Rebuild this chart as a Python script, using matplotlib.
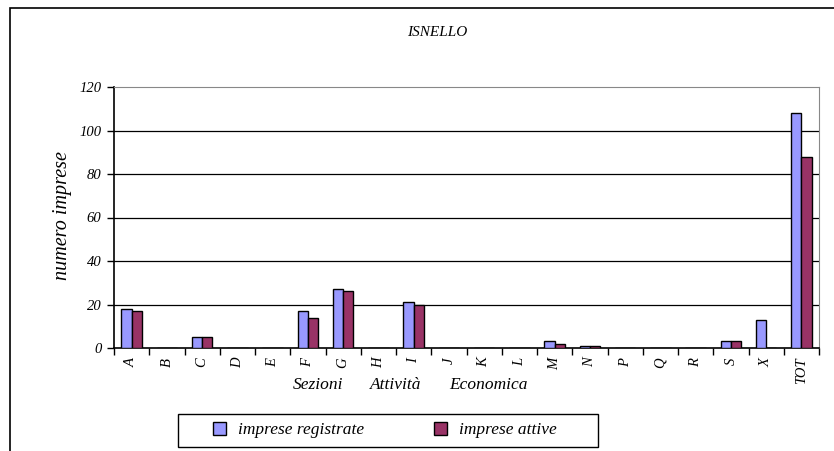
import numpy as np
import matplotlib.pyplot as plt
from matplotlib.patches import Rectangle

# dati
sezioni = ['A', 'B', 'C', 'D', 'E', 'F', 'G', 'H', 'I', 'J', 'K', 'L',
           'M', 'N', 'P', 'Q', 'R', 'S', 'X', 'TOT']
registrate = [18, 0, 5, 0, 0, 17, 27, 0, 21, 0, 0, 0, 3, 1, 0, 0, 0, 3, 13, 108]
attive = [17, 0, 5, 0, 0, 14, 26, 0, 20, 0, 0, 0, 2, 1, 0, 0, 0, 3, 0, 88]
yticks = [0, 20, 40, 60, 80, 100, 120]
parole_xlabel = ['Sezioni', 'Attività', 'Economica']

plt.rcParams['font.family'] = ['Liberation Serif', 'DejaVu Serif']
plt.rcParams['font.style'] = 'italic'

fig = plt.figure(figsize=(8.34, 4.51), dpi=100)
ax = fig.add_axes([114/834, 1-348/451, 705/834, 261/451])

# cornice esterna
fig.patches.append(Rectangle((10/834, -0.1), 1.2, 1-8/451+0.1, transform=fig.transFigure,
                             fill=False, edgecolor='black', linewidth=1.2))

x = np.arange(len(sezioni))
w = 0.29
ax.bar(x - w/2, registrate, w, color='#9999FF', edgecolor='black', linewidth=1,
       label='imprese registrate', zorder=3)
ax.bar(x + w/2, attive, w, color='#993366', edgecolor='black', linewidth=1,
       label='imprese attive', zorder=3)

ax.set_xlim(-0.5, len(sezioni) - 0.5)
ax.set_ylim(0, 120)
ax.set_yticks(yticks)
ax.set_yticklabels([str(v) for v in yticks], fontsize=10.5)
for v in yticks[1:-1]:
    ax.axhline(v, color='black', linewidth=0.9, zorder=1)

ax.set_xticks(x)
ax.set_xticklabels(sezioni, rotation=90, fontsize=10.5)
ax.tick_params(axis='x', length=0, pad=7)
ax.set_xticks(np.arange(-0.5, len(sezioni)), minor=True)
ax.tick_params(axis='x', which='minor', length=5, direction='out', width=1)
ax.tick_params(axis='y', length=5, direction='out', width=1, pad=4)

ax.spines['top'].set_color('#888888')
ax.spines['right'].set_color('#888888')
ax.spines['left'].set_linewidth(1.2)
ax.spines['bottom'].set_linewidth(1.2)

fig.text(62/834, 1-216/451, 'numero imprese', fontsize=14.5, rotation=90,
         ha='center', va='center')
for parola, xc in zip(parole_xlabel, [318, 396, 488]):
    fig.text(xc/834, 1-385/451, parola, fontsize=12.5, ha='center', va='center')
fig.text(437/834, 1-32/451, 'ISNELLO', fontsize=11, ha='center', va='center')

# riquadro legenda
fig.patches.append(Rectangle((178/834, 1-447/451), 420/834, 33/451, transform=fig.transFigure,
                             fill=False, edgecolor='black', linewidth=1))
fig.legend(loc='center', bbox_to_anchor=(385/834, 1-430/451),
           ncol=2, frameon=False, fontsize=12.5,
           handlelength=0.75, handleheight=0.75, handletextpad=0.7,
           columnspacing=4.0, borderpad=0)

fig.savefig('out.png', dpi=100)
